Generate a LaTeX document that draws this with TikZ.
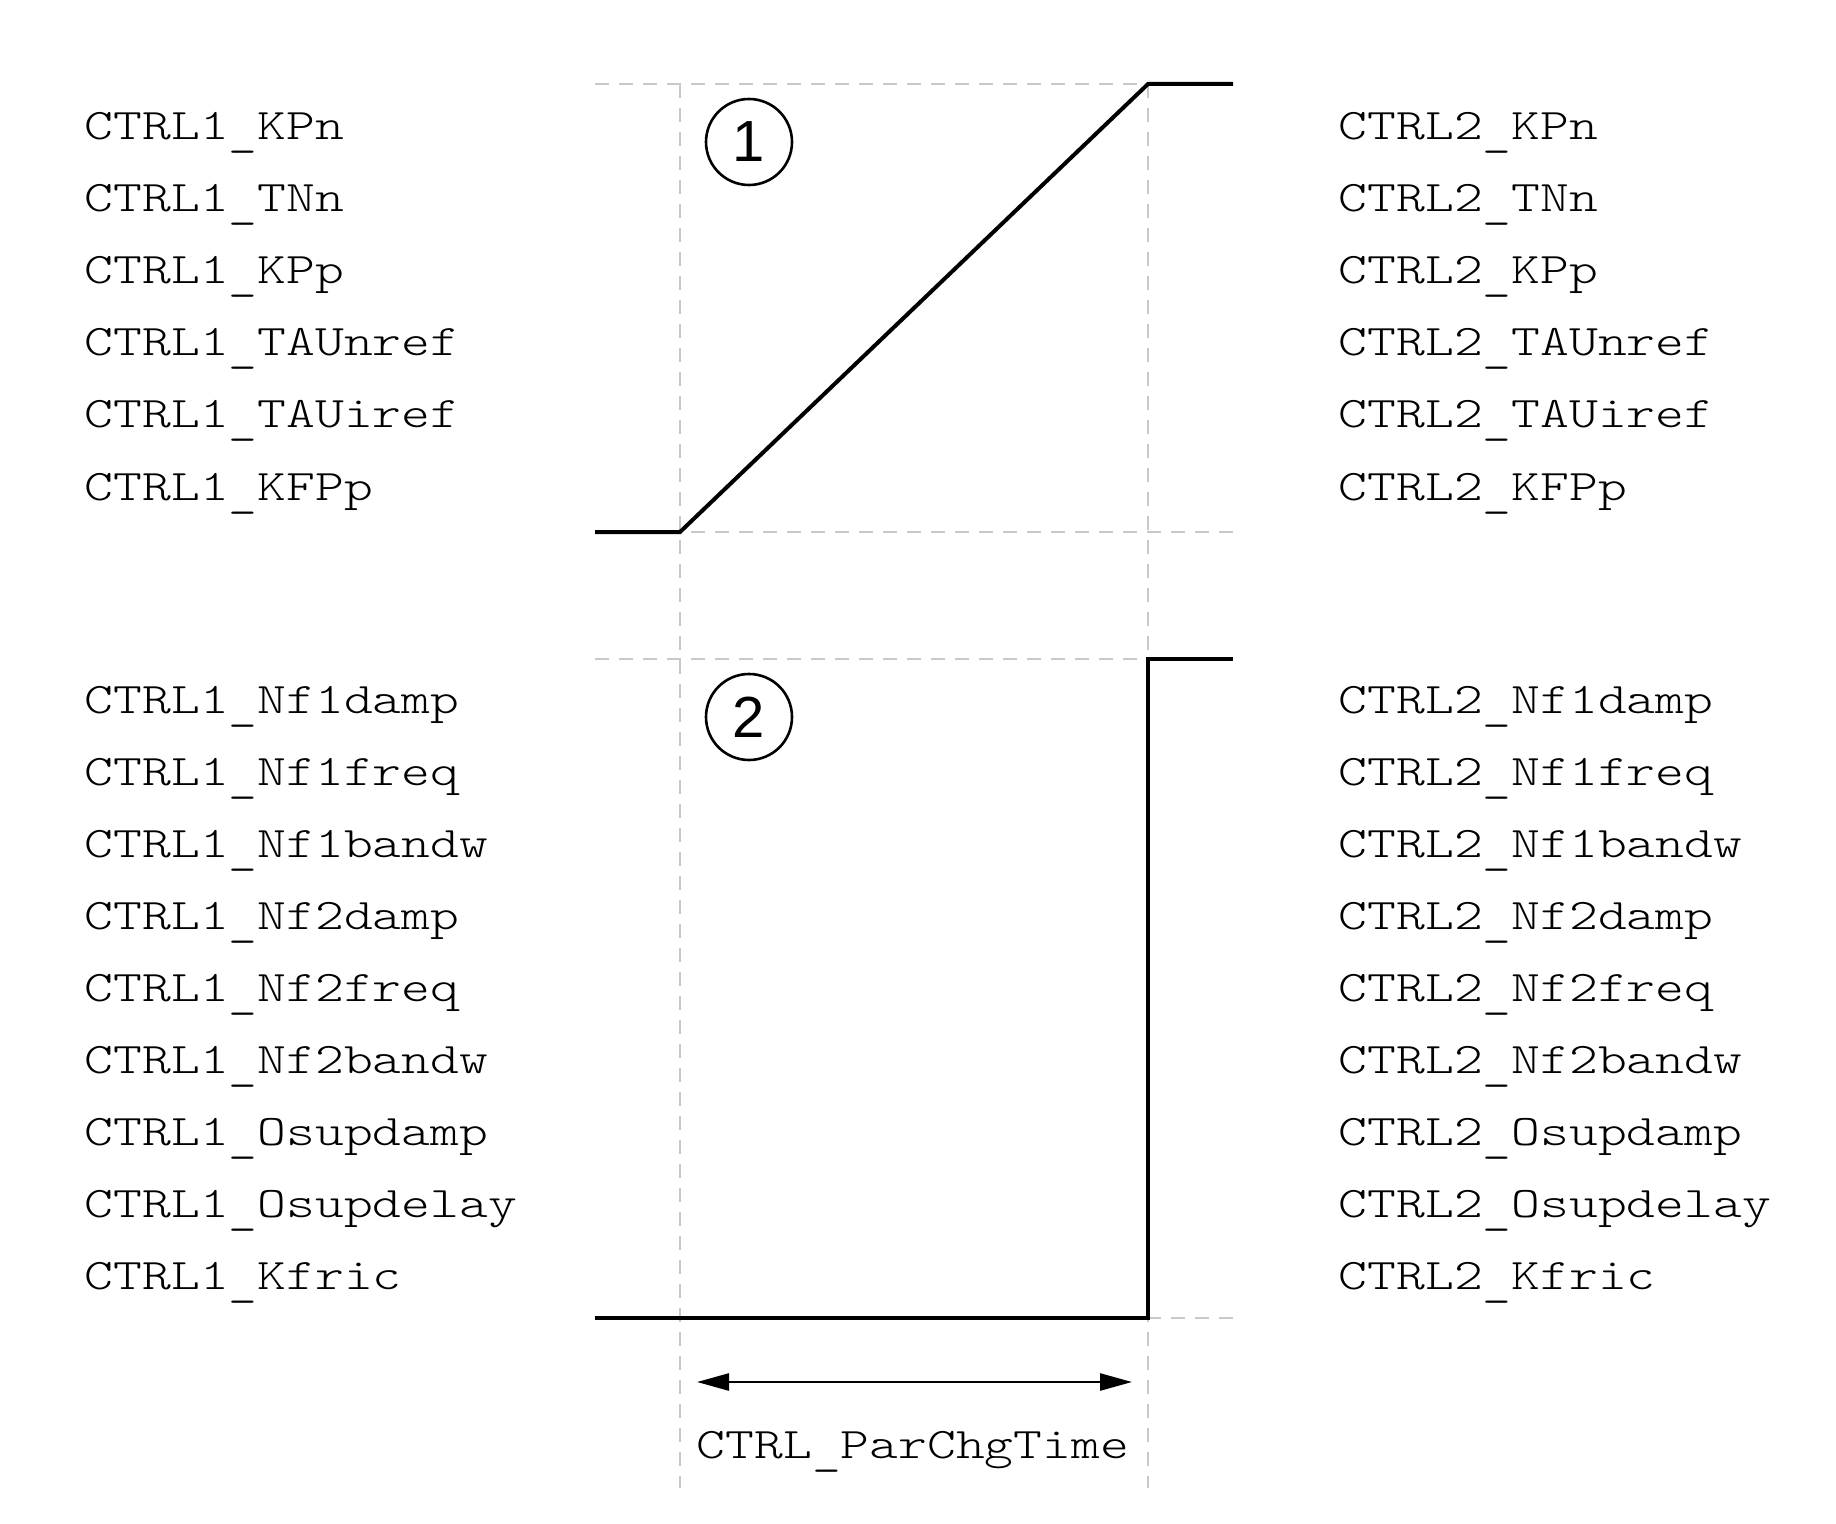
\documentclass[tikz,border=0pt]{standalone}
\usepackage{fontspec}
\usepackage{graphicx}
\setmainfont{Liberation Sans}
\newfontfamily\monofont{lmmonolt10-regular.otf}
\newcommand{\us}{\raisebox{-3pt}{\_}}
\newcommand{\wide}[1]{\scalebox{1.258}[1]{\monofont\fontsize{21.8pt}{26pt}\selectfont #1}}
\usetikzlibrary{arrows.meta}
\tikzset{
  guide/.style={draw={rgb,255:red,200;green,200;blue,200}, line width=0.75pt, dash pattern=on 7pt off 5pt},
  wave/.style={draw=black, line width=2pt, line join=miter},
  param/.style={anchor=base west, inner sep=0pt},
  marker/.style={circle, draw=black, line width=1.3pt, minimum size=43pt, inner sep=0pt, font=\fontsize{29pt}{32pt}\selectfont},
  dimarrow/.style={line width=1.3pt, {Triangle[length=16pt,width=8.5pt]}-{Triangle[length=16pt,width=8.5pt]}}
}
\begin{document}
\begin{tikzpicture}[x=0.5pt,y=-0.5pt]
\useasboundingbox (0,0) rectangle (1836,1524);
% guide coordinates
\coordinate (gL1t) at (595,84);   \coordinate (gR1t) at (1233,84);
\coordinate (gL1b) at (595,532);  \coordinate (gR1b) at (1233,532);
\coordinate (gL2t) at (595,659);  \coordinate (gR2t) at (1233,659);
\coordinate (gL2b) at (595,1318); \coordinate (gR2b) at (1233,1318);
\coordinate (vAt) at (680,84);    \coordinate (vAb) at (680,1488);
\coordinate (vBt) at (1148,84);   \coordinate (vBb) at (1148,1488);
% dashed guides
\draw[guide] (gL1t) -- (gR1t);
\draw[guide] (gL1b) -- (gR1b);
\draw[guide] (gL2t) -- (gR2t);
\draw[guide] (gL2b) -- (gR2b);
\draw[guide] (vAt) -- (vAb);
\draw[guide] (vBt) -- (vBb);
% waveform 1 (ramp)
\coordinate (r0) at (595,532);
\coordinate (r1) at (680,532);
\coordinate (r2) at (1148,84);
\coordinate (r3) at (1233,84);
\draw[wave] (r0) -- (r1) -- (r2) -- (r3);
% waveform 2 (step)
\coordinate (s0) at (595,1318);
\coordinate (s1) at (1148,1318);
\coordinate (s2) at (1148,659);
\coordinate (s3) at (1233,659);
\draw[wave] (s0) -- (s1) -- (s2) -- (s3);
% markers
\node[marker] (m1) at (749,142) {1};
\node[marker] (m2) at (749,717) {2};
% parameter lists
\foreach \t [count=\i from 0] in {KPn,TNn,KPp,TAUnref,TAUiref,KFPp}{
  \node[param] (lu\i) at (84.5,140+72*\i) {\wide{CTRL1\us\t}};
  \node[param] (ru\i) at (1338.5,140+72*\i) {\wide{CTRL2\us\t}};
}
\foreach \t [count=\i from 0] in {Nf1damp,Nf1freq,Nf1bandw,Nf2damp,Nf2freq,Nf2bandw,Osupdamp,Osupdelay,Kfric}{
  \node[param] (ll\i) at (84.5,713+72*\i) {\wide{CTRL1\us\t}};
  \node[param] (rl\i) at (1338.5,713+72*\i) {\wide{CTRL2\us\t}};
}
% time span
\coordinate (a1) at (697,1382);
\coordinate (a2) at (1132,1382);
\draw[dimarrow] (a1) -- (a2);
\node[param] (lab) at (696.5,1458) {\wide{CTRL\us ParChgTime}};
\end{tikzpicture}
\end{document}
